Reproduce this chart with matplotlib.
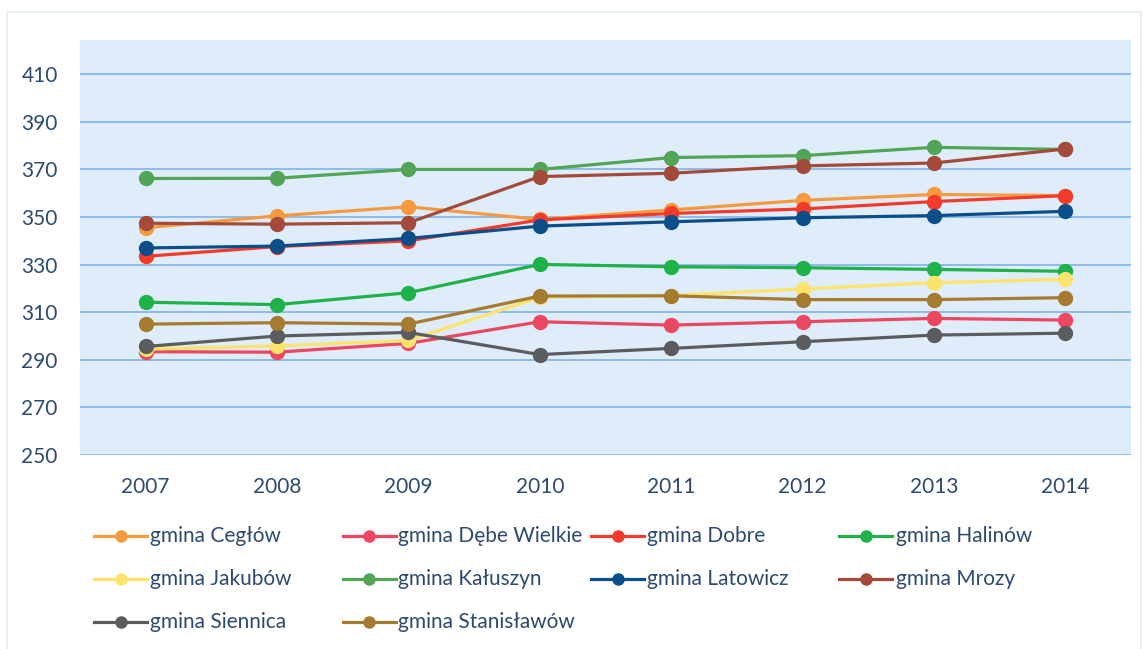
import numpy as np
import matplotlib
matplotlib.use("Agg")
import matplotlib.pyplot as plt
from matplotlib.patches import Rectangle
from matplotlib.lines import Line2D

years = ["2007", "2008", "2009", "2010", "2011", "2012", "2013", "2014"]

names = ["gmina Cegłów", "gmina Dębe Wielkie", "gmina Dobre", "gmina Halinów",
         "gmina Jakubów", "gmina Kałuszyn", "gmina Latowicz", "gmina Mrozy",
         "gmina Siennica", "gmina Stanisławów"]

ceglow = [345.5, 350.5, 354.3, 349.0, 353.0, 357.0, 359.5, 359.0]
debe = [293.4, 293.2, 296.9, 306.0, 304.6, 306.0, 307.4, 306.7]
dobre = [333.5, 337.6, 340.0, 348.8, 351.5, 353.4, 356.5, 359.0]
halinow = [314.2, 313.2, 318.2, 330.1, 329.1, 328.7, 328.0, 327.2]
jakubow = [294.5, 295.8, 298.2, 316.3, 317.0, 319.8, 322.4, 323.8]
kaluszyn = [366.2, 366.3, 370.0, 370.0, 375.0, 375.8, 379.3, 378.4]
latowicz = [337.0, 337.8, 341.0, 346.2, 348.0, 349.7, 350.6, 352.4]
mrozy = [347.4, 347.0, 347.6, 367.0, 368.4, 371.5, 372.7, 378.6]
siennica = [295.6, 300.0, 301.5, 292.2, 294.8, 297.6, 300.4, 301.2]
stanislawow = [305.0, 305.6, 305.0, 316.8, 316.9, 315.3, 315.3, 316.1]

series = [ceglow, debe, dobre, halinow, jakubow, kaluszyn, latowicz, mrozy,
          siennica, stanislawow]
colors = ["#F59A3E", "#EC4761", "#F23B2B", "#1FB24A", "#FBE36C",
          "#52A457", "#0B4E8A", "#A44A3A", "#5B5C5E", "#A57B2F"]

y_ticks = np.arange(250, 411, 20)
text_color = "#2C4A6E"

W, H = 1146, 649
fig = plt.figure(figsize=(W / 100, H / 100), dpi=100)
fig.patches.append(Rectangle((7 / W, -0.01), 1134 / W, 1 - 12 / H + 0.01,
                             transform=fig.transFigure, fill=False,
                             edgecolor="#E2EEF3", linewidth=1.2))

ax = fig.add_axes([80 / W, 1 - 455 / H, 1051 / W, 415 / H])
ax.set_facecolor("#DEEDF9")

x = np.arange(len(years))
for vals, col, name in zip(series, colors, names):
    ax.plot(x, vals, color=col, linewidth=2.3, marker="o",
            markersize=10, label=name, zorder=3)

ax.set_xlim(-0.5, len(years) - 0.5)
ax.set_ylim(250, 424.4)
ax.set_xticks(x)
ax.set_xticklabels(years)
ax.set_yticks(y_ticks)
ax.yaxis.grid(True, color="#8FBBEA", linewidth=1.4)
ax.set_axisbelow(True)
for sp in ax.spines.values():
    sp.set_visible(False)
ax.tick_params(axis="both", length=0, labelsize=15, labelcolor=text_color,
               labelfontfamily="Lato")
ax.tick_params(axis="x", pad=16)
ax.tick_params(axis="y", pad=16)

# legend laid out by hand: 4 equal columns, filled row by row
col_w = 248.5
for i, (name, col) in enumerate(zip(names, colors)):
    r, c = divmod(i, 4)
    x0 = 94 + col_w * c
    yy = 1 - (536 + 43 * r) / H
    fig.lines.append(Line2D([x0 / W, (x0 + 53) / W], [yy, yy],
                            transform=fig.transFigure, color=col,
                            linewidth=2.3))
    fig.lines.append(Line2D([(x0 + 26.5) / W], [yy], transform=fig.transFigure,
                            color=col, marker="o", markersize=8))
    fig.text((x0 + 56) / W, yy, name, ha="left", va="center",
             color=text_color, family="Lato", fontsize=15)

fig.savefig("out.png", dpi=100)
